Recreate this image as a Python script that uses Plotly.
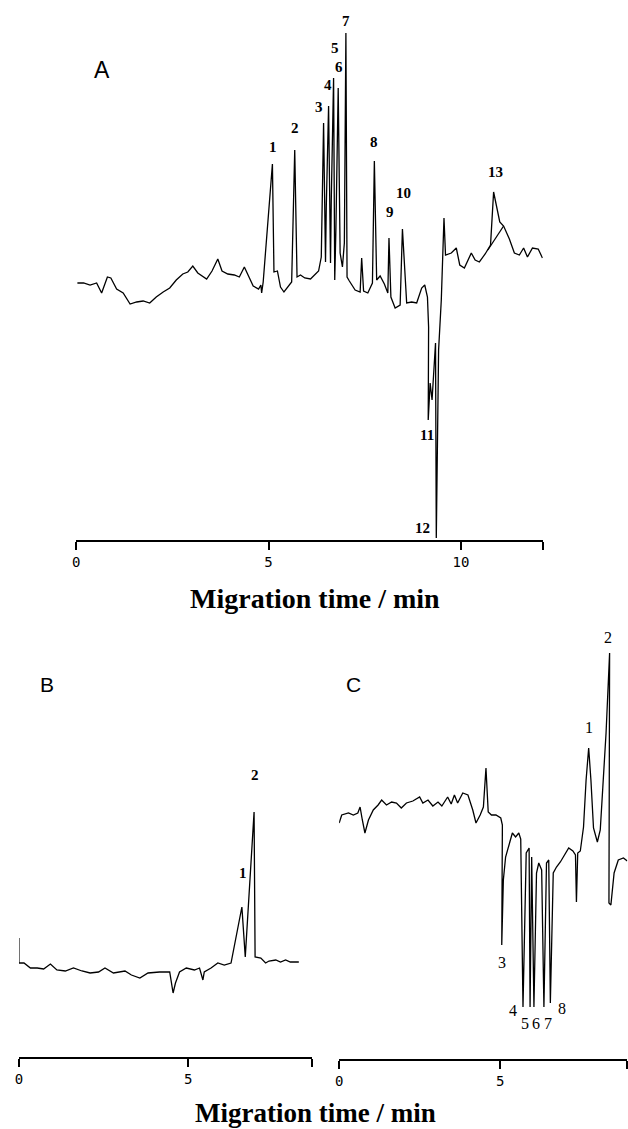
import plotly.graph_objects as go

W, H = 628, 1129

# ---------------- Panel A data (time in min, signal arbitrary units) ----------------
tA = [0.03, 0.19, 0.36, 0.53, 0.66, 0.81, 0.90, 1.05, 1.22, 1.40, 1.57, 1.74, 1.91, 2.08, 2.26,
      2.43, 2.60, 2.77, 2.90, 3.03, 3.16, 3.29, 3.39, 3.53, 3.68, 3.79, 3.94, 4.11, 4.24, 4.37,
      4.48, 4.60, 4.74, 4.80, 4.82, 4.86, 5.10, 5.14, 5.23, 5.31, 5.40, 5.53, 5.60, 5.68, 5.74,
      5.83, 5.94, 6.09, 6.24, 6.30, 6.37, 6.43, 6.48, 6.50, 6.56, 6.61, 6.63, 6.69, 6.72, 6.75,
      6.81, 6.86, 6.92, 6.97, 7.01, 7.04, 7.10, 7.25, 7.38, 7.42, 7.47, 7.58, 7.70, 7.75, 7.81,
      7.90, 8.01, 8.10, 8.13, 8.18, 8.29, 8.42, 8.48, 8.59, 8.72, 8.85, 8.98, 9.06, 9.13, 9.16,
      9.15, 9.20, 9.25, 9.30, 9.34, 9.36, 9.42, 9.49, 9.56, 9.60, 9.75, 9.88, 9.97, 10.09, 10.27,
      10.37, 10.48, 10.63, 10.77, 10.85, 11.01, 11.11, 11.26, 11.39, 11.52, 11.63, 11.73, 11.86,
      12.01, 12.12]
sA = [0, 0, -2, 0, -10, 6, 5, -6, -10, -21, -19, -18, -20, -14, -9,
      -5, 3, 9, 11, 17, 10, 7, 4, 12, 24, 12, 9, 8, 6, 16,
      6, -3, -6, -2, -10, 1, 119, 11, 12, -4, -9, -3, 1, 133, 6,
      8, 5, 4, 10, 12, 26, 160, 21, 76, 177, 20, 83, 205, 3, 53,
      195, 30, 16, 40, 250, 6, 2, -7, -9, 25, -8, -10, 0, 122, 3,
      7, -1, -10, 45, -14, -25, -22, 54, -20, -19, -20, -5, -2, -14, -44,
      -137, -100, -117, -84, -60, -255, -67, -17, 65, 28, 30, 35, 18, 15, 30,
      23, 21, 29, 38, 91, 61, 57, 44, 30, 28, 35, 26, 35,
      34, 25]
# broad hump under peak 13
tA_hump = [10.70, 11.11]
sA_hump = [33, 57]

peaksA_lbl = ["1", "2", "3", "4", "5", "6", "7", "8", "9", "10", "11", "12", "13"]
peaksA_t = [5.12, 5.69, 6.31, 6.55, 6.73, 6.83, 7.01, 7.73, 8.15, 8.51, 9.13, 9.00, 10.91]
peaksA_s = [136, 155, 176, 198, 235, 216, 262, 141, 71, 90, -152, -245, 111]

# ---------------- Panel B data ----------------
tB = [0.0, 0.0, 0.15, 0.34, 0.54, 0.73, 0.93, 1.12, 1.37, 1.61, 1.86, 2.10, 2.35, 2.54, 2.79,
      3.13, 3.32, 3.57, 3.81, 4.15, 4.45, 4.55, 4.62, 4.74, 4.94, 5.18, 5.33, 5.43, 5.47, 5.67,
      5.87, 6.06, 6.26, 6.58, 6.68, 6.94, 6.97, 7.14, 7.28, 7.38, 7.58, 7.72, 7.87, 8.01, 8.26]
sB = [27, 2, 2, -3, -3, -4, 1, -5, -6, -3, -6, -8, -7, -3, -8,
      -6, -10, -13, -8, -7, -7, -28, -18, -7, -3, -5, -3, -15, -7, -3,
      2, 0, 2, 58, 8, 153, 8, 7, 2, 4, 5, 3, 5, 3, 3]
peaksB_lbl = ["1", "2"]
peaksB_t = [6.60, 6.98]
peaksB_s = [92, 190]

# ---------------- Panel C data ----------------
tC = [0.0, 0.08, 0.29, 0.44, 0.58, 0.65, 0.72, 0.80, 0.91, 1.06, 1.21, 1.32, 1.47, 1.63, 1.78,
      1.93, 2.09, 2.29, 2.50, 2.60, 2.76, 2.91, 3.07, 3.19, 3.37, 3.48, 3.58, 3.68, 3.84, 4.00,
      4.15, 4.25, 4.38, 4.48, 4.56, 4.63, 4.73, 4.87, 5.02, 5.07, 5.05, 5.10, 5.17, 5.28, 5.38,
      5.48, 5.58, 5.64, 5.71, 5.81, 5.90, 5.93, 5.98, 6.05, 6.13, 6.20, 6.29, 6.36, 6.44, 6.51,
      6.56, 6.65, 6.75, 6.87, 7.03, 7.13, 7.26, 7.34, 7.37, 7.41, 7.49, 7.59, 7.67, 7.75, 7.82,
      7.90, 8.02, 8.11, 8.19, 8.29, 8.40, 8.38, 8.44, 8.54, 8.67, 8.83, 8.95]
sC = [-3, 5, 7, 5, 7, 13, 0, -13, 0, 10, 15, 20, 15, 18, 17,
      12, 17, 19, 23, 17, 20, 14, 18, 14, 23, 16, 25, 17, 27, 25,
      10, -3, 5, 13, 52, 8, 5, 5, 2, -5, -125, -60, -37, -23, -13,
      -17, -13, -19, -187, -33, -28, -187, -37, -187, -53, -43, -50, -187, -43, -40,
      -183, -53, -47, -42, -33, -28, -31, -35, -82, -33, -31, -7, 40, 72, 40,
      -8, -22, -10, 33, 87, 167, -83, -85, -53, -40, -38, -41]
peaksC_lbl = ["1", "2", "3", "4", "5", "6", "7", "8"]
peaksC_t = [7.75, 8.36, 5.07, 5.41, 5.76, 6.10, 6.49, 6.93]
peaksC_s = [93, 183, -142, -190, -203, -203, -203, -188]

# tick labels
ticksA = [0, 5, 10]
ticksBC = [0, 5]
xendA, xendB, xendC = 12.13, 8.65, 8.95
x_title = "Migration time / min"

line = dict(color="black", width=1.3)
fig = go.Figure()
fig.add_trace(go.Scatter(x=tA, y=sA, mode="lines", line=line, xaxis="x", yaxis="y", showlegend=False))
fig.add_trace(go.Scatter(x=tA_hump, y=sA_hump, mode="lines", line=line, xaxis="x", yaxis="y", showlegend=False))
fig.add_trace(go.Scatter(x=tB, y=sB, mode="lines", line=line, xaxis="x2", yaxis="y2", showlegend=False))
fig.add_trace(go.Scatter(x=tC, y=sC, mode="lines", line=line, xaxis="x3", yaxis="y3", showlegend=False))

def px(p):
    return p / W

def py(p):
    return 1 - p / H

def xax(dom, rng, ticks, anchor):
    return dict(domain=dom, range=rng, anchor=anchor, showline=True, linecolor="black", linewidth=1.6,
                ticks="outside", ticklen=8, tickwidth=1.6, tickcolor="black",
                tickvals=ticks + [rng[1]], ticktext=[str(t) for t in ticks] + [""],
                showgrid=False, zeroline=False, fixedrange=True,
                tickfont=dict(family="DejaVu Sans Mono", size=14, color="black"))

def yax(dom, rng):
    return dict(domain=dom, range=rng, visible=False, fixedrange=True)

fig.update_layout(
    width=W, height=H, margin=dict(l=0, r=0, t=0, b=0),
    paper_bgcolor="white", plot_bgcolor="white",
    xaxis=xax([px(72.7), px(542.3)], [0, xendA], ticksA, "y"),
    yaxis=yax([py(540), py(0)], [-257, 283]),
    xaxis2=xax([px(15), px(310)], [0, xendB], ticksBC, "y2"),
    yaxis2=yax([py(1057), py(660)], [-92, 305]),
    xaxis3=xax([px(337.3), px(627.3)], [0, xendC], ticksBC, "y3"),
    yaxis3=yax([py(1059), py(630)], [-239, 190]),
)

ann = []
for lbl, t, s in zip(peaksA_lbl, peaksA_t, peaksA_s):
    ann.append(dict(x=t, y=s, xref="x", yref="y", text=f"<b>{lbl}</b>", showarrow=False,
                    font=dict(family="Liberation Serif", size=15, color="black")))
for lbl, t, s in zip(peaksB_lbl, peaksB_t, peaksB_s):
    ann.append(dict(x=t, y=s, xref="x2", yref="y2", text=f"<b>{lbl}</b>", showarrow=False,
                    font=dict(family="Liberation Serif", size=15, color="black")))
for lbl, t, s in zip(peaksC_lbl, peaksC_t, peaksC_s):
    ann.append(dict(x=t, y=s, xref="x3", yref="y3", text=lbl, showarrow=False,
                    font=dict(family="Liberation Serif", size=16, color="black")))
for lbl, x, y, sz in [("A", 89, 55, 23), ("B", 34, 684, 21), ("C", 352, 684, 21)]:
    ann.append(dict(x=px(x), y=py(y), xref="paper", yref="paper", text=lbl, showarrow=False,
                    font=dict(family="Liberation Sans", size=sz, color="black")))
ann.append(dict(x=px(313), y=py(598), xref="paper", yref="paper", text=f"<b>{x_title}</b>",
                showarrow=False, font=dict(family="Liberation Serif", size=28, color="black")))
ann.append(dict(x=px(313), y=0, xref="paper", yref="paper", yanchor="bottom", text=f"<b>{x_title}</b>",
                showarrow=False, borderpad=0, font=dict(family="Liberation Serif", size=27, color="black")))
fig.update_layout(annotations=ann)

fig.write_html("out.html")
